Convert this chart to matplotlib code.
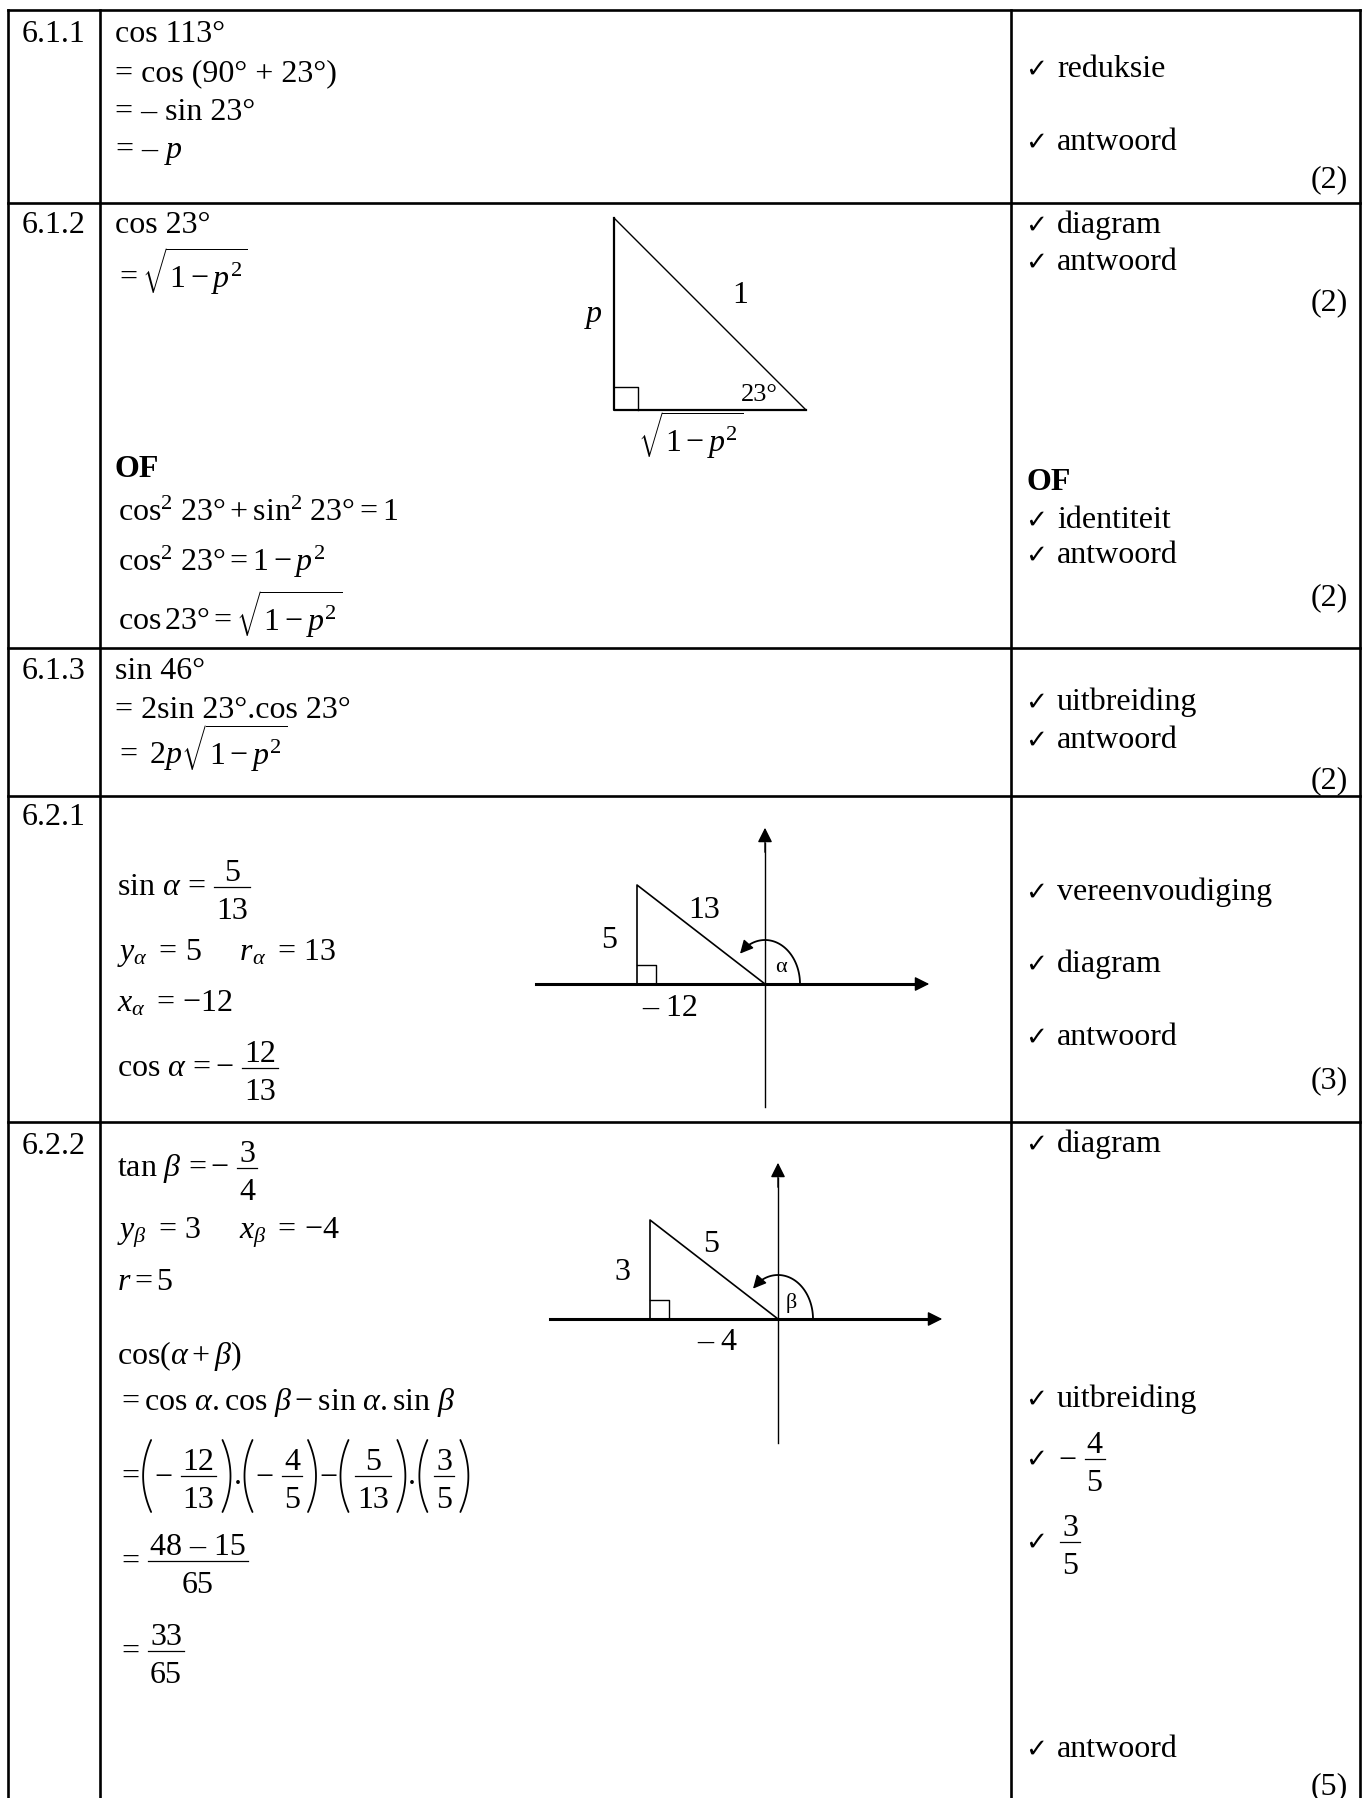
import numpy as np
import matplotlib.pyplot as plt

plt.rcParams['font.family'] = ['Liberation Serif', 'DejaVu Sans']
plt.rcParams['mathtext.fontset'] = 'custom'
plt.rcParams['mathtext.rm'] = 'Liberation Serif'
plt.rcParams['mathtext.it'] = 'Liberation Serif:italic'
plt.rcParams['mathtext.bf'] = 'Liberation Serif:bold'

# question numbers
row_labels = ['6.1.1', '6.1.2', '6.1.3', '6.2.1', '6.2.2']

# working per question
work_611 = ['cos 113°', '= cos (90° + 23°)', '= – sin 23°', '= – $p$']
work_612 = ['cos 23°', r'$=\sqrt{1-p^{2}}$']
work_612_of = [r'$\mathrm{cos}^{2}\ 23\degree+\mathrm{sin}^{2}\ 23\degree=1$',
               r'$\mathrm{cos}^{2}\ 23\degree=1-p^{2}$',
               r'$\mathrm{cos}\,23\degree=\sqrt{1-p^{2}}$']
work_613 = ['sin 46°', '= 2sin 23°.cos 23°', r'$=\ 2p\sqrt{1-p^{2}}$']

# expressions with fractions: ('t', text) / ('f', num, den) / '(' / ')'
sin_a = [('t', r'$\sin\,\alpha\,=$'), ('f', '5', '13')]
y_a = r'$y_{\alpha}\ =\,5\quad\ \ r_{\alpha}\ =\,13$'
x_a = r'$x_{\alpha}\ =\,{-}12$'
cos_a = [('t', r'$\cos\,\alpha\,=-$'), ('f', '12', '13')]
tan_b = [('t', r'$\tan\,\beta\,=-$'), ('f', '3', '4')]
work_622 = [r'$y_{\beta}\ =\,3\quad\ \ x_{\beta}\ =\,{-}4$', r'$r=5$', r'$\cos(\alpha+\beta)$',
            r'$=\cos\,\alpha.\cos\,\beta-\sin\,\alpha.\sin\,\beta$']
expand = [('t', '$=$'), '(', ('t', r'$-$'), ('f', '12', '13'), ')', ('t', '.'),
          '(', ('t', r'$-$'), ('f', '4', '5'), ')', ('t', r'$-$'),
          '(', ('f', '5', '13'), ')', ('t', '.'), '(', ('f', '3', '5'), ')']
step1 = [('t', r'$=$'), ('f', '48 – 15', '65')]
step2 = [('t', r'$=$'), ('f', '33', '65')]

# mark allocation column
marks_611 = ['reduksie', 'antwoord']
marks_612 = ['diagram', 'antwoord']
marks_612_of = ['identiteit', 'antwoord']
marks_613 = ['uitbreiding', 'antwoord']
marks_621 = ['vereenvoudiging', 'diagram', 'antwoord']
marks_622 = ['diagram', 'uitbreiding', 'antwoord']
mark_frac1 = [('t', r'$-$'), ('f', '4', '5')]
mark_frac2 = [('f', '3', '5')]
totals = ['(2)', '(2)', '(2)', '(2)', '(3)', '(5)']

# diagram side labels
tri1_labels = ['$p$', '1', '23°', r'$\sqrt{1-p^{2}}$']
tri_a_labels = ['5', '13', '– 12', 'α']
tri_b_labels = ['3', '5', '– 4', 'β']

W, H = 1363, 1798
FS = 23
fig = plt.figure(figsize=(W / 100, H / 100), dpi=100)
ax = fig.add_axes([0, 0, 1, 1])
ax.set_xlim(0, W)
ax.set_ylim(H, 0)
ax.axis('off')
renderer = fig.canvas.get_renderer()


def txt(x, y, s, size=FS, ha='left', va='baseline', **kw):
    return ax.text(x, y, s, fontsize=size, ha=ha, va=va, **kw)


def measure(s, size=FS):
    t = ax.text(0, 0, s, fontsize=size)
    w = t.get_window_extent(renderer).width
    t.remove()
    return w


def paren(x, bar, side):
    s = np.linspace(-1, 1, 50)
    y = bar + 36 * s
    if side == '(':
        xs = x + 2 + 8 * s ** 2
    else:
        xs = x + 10 - 8 * s ** 2
    ax.plot(xs, y, color='black', lw=1.3, solid_capstyle='round')


def expr(x, base, items):
    # lay out text, fractions and tall brackets from left to right
    bar = base - 8
    prev = None
    for it in items:
        if it in ('(', ')'):
            paren(x, bar, it)
            x += 13
            prev = 'p'
        elif it[0] == 't':
            txt(x, base, it[1])
            x += measure(it[1]) + 1
            prev = 't'
        else:
            x += 6 if prev == 't' else 3
            w = max(measure(it[1]), measure(it[2])) + 6
            txt(x + w / 2, bar - 6, it[1], ha='center')
            txt(x + w / 2, bar + 32, it[2], ha='center')
            ax.plot([x + 1, x + w - 1], [bar, bar], color='black', lw=0.9)
            x += w + 3
            prev = 'f'
    return x


def check(y):
    ax.text(1025, y, '✓', fontsize=19, family='DejaVu Sans', ha='left', va='baseline')


def mark(y, s):
    check(y)
    txt(1057, y, s)


# table grid
lw = 1.9
for x in [8, 100, 1011, 1360]:
    ax.plot([x, x], [10, H], color='black', lw=lw)
for y in [10, 203, 648, 796, 1122]:
    ax.plot([8, 1360], [y, y], color='black', lw=lw)

# row labels
for lab, y in zip(row_labels, [42, 233, 679, 825, 1154]):
    txt(22, y, lab)

# 6.1.1
for s, y in zip(work_611, [42, 81, 120, 158]):
    txt(115, y, s)
for s, y in zip(marks_611, [77, 150]):
    mark(y, s)

# 6.1.2
txt(115, 233, work_612[0])
txt(115, 288, work_612[1])
txt(115, 477, 'OF', weight='bold')
for s, y in zip(work_612_of, [521, 571, 631]):
    txt(118, y, s)
for s, y in zip(marks_612, [233, 270]):
    mark(y, s)
txt(1026, 490, 'OF', weight='bold')
for s, y in zip(marks_612_of, [528, 563]):
    mark(y, s)

# triangle for 6.1.2
ax.plot([614, 614, 806], [218, 410, 410], color='black', lw=1.6)
ax.plot([614, 806], [218, 410], color='black', lw=1.0)
ax.plot([614, 638, 638], [387, 387, 410], color='black', lw=1.0)
txt(584, 322, tri1_labels[0])
txt(732, 303, tri1_labels[1])
txt(741, 401, tri1_labels[2], size=19)
txt(638, 452, tri1_labels[3])

# 6.1.3
for s, y in zip(work_613, [679, 718, 765]):
    txt(115, y, s)
for s, y in zip(marks_613, [710, 748]):
    mark(y, s)

# 6.2.1
expr(117, 895, sin_a)
txt(117, 960, y_a)
txt(117, 1012, x_a)
expr(117, 1076, cos_a)
for s, y in zip(marks_621, [900, 972, 1045]):
    mark(y, s)

# 6.2.2
expr(117, 1176, tan_b)
for s, y in zip(work_622, [1239, 1290, 1364, 1410]):
    txt(117, y, s)
expr(117, 1484, expand)
expr(117, 1569, step1)
expr(117, 1659, step2)
mark(1152, marks_622[0])
mark(1407, marks_622[1])
check(1467)
expr(1058, 1467, mark_frac1)
check(1550)
expr(1056, 1550, mark_frac2)
mark(1757, marks_622[2])

# totals
for s, y in zip(totals, [187, 310, 605, 788, 1088, 1794]):
    txt(1348, y, s, ha='right')


def angle_diagram(ox, oy, top, bottom, left, right, legx, legy, labels, pos):
    ax.plot([ox, ox], [bottom, top + 18], color='black', lw=1.0)
    ax.annotate('', xy=(ox, top), xytext=(ox, top + 30),
                arrowprops=dict(arrowstyle='-|>', color='black', lw=1.0, mutation_scale=22))
    ax.plot([left, right - 18], [oy, oy], color='black', lw=2.2)
    ax.annotate('', xy=(right, oy), xytext=(right - 30, oy),
                arrowprops=dict(arrowstyle='-|>', color='black', lw=1.0, mutation_scale=22))
    ax.plot([legx, legx, ox], [oy, legy, oy], color='black', lw=1.2)
    ax.plot([legx, legx + 19, legx + 19], [oy - 19, oy - 19, oy], color='black', lw=1.0)
    t = np.radians(np.linspace(0, 128, 60))
    rx, ry = 35, 44
    ax.plot(ox + rx * np.cos(t), oy - ry * np.sin(t), color='black', lw=1.3)
    t1, t2 = np.radians(124), np.radians(140)
    ax.annotate('', xy=(ox + rx * np.cos(t2), oy - ry * np.sin(t2)),
                xytext=(ox + rx * np.cos(t1), oy - ry * np.sin(t1)),
                arrowprops=dict(arrowstyle='-|>', color='black', lw=1.0, mutation_scale=20))
    for i, (s, (px, py)) in enumerate(zip(labels, pos)):
        txt(px, py, s, size=FS if i < 3 else 16, ha='center', va='center')


angle_diagram(765, 984, 825, 1107, 536, 932, 637, 885, tri_a_labels,
              [(609, 940), (704, 910), (670, 1008), (781, 967)])
angle_diagram(778, 1319, 1160, 1443, 550, 945, 650, 1220, tri_b_labels,
              [(622, 1272), (711, 1244), (717, 1342), (791, 1303)])

fig.savefig('out.png', dpi=100)
